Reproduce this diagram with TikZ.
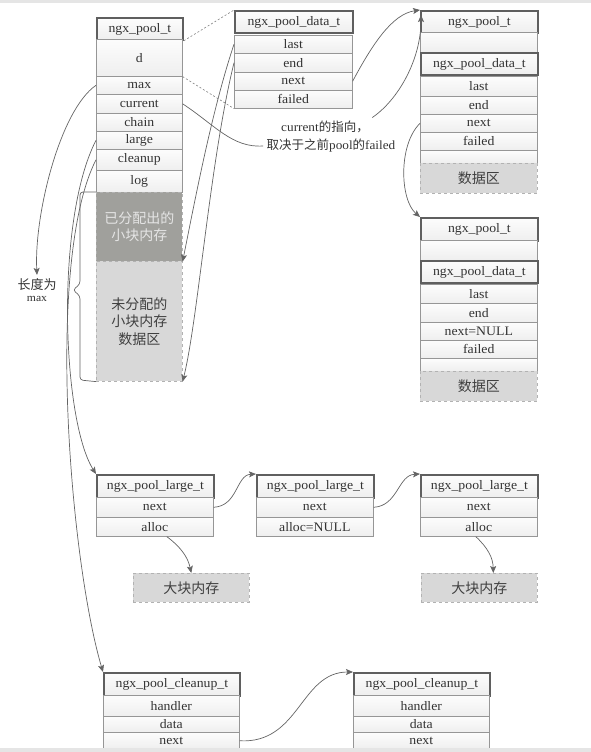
\documentclass[tikz,border=0pt]{standalone}
\usepackage{fontspec}
\setmainfont{Liberation Serif}[FakeStretch=1.06]
\newfontfamily\cjk{Noto Sans CJK SC}
\usetikzlibrary{arrows.meta}

\definecolor{linegray}{RGB}{100,100,100}
\definecolor{headgray}{RGB}{95,95,95}
\definecolor{cellgray}{RGB}{150,150,150}
\definecolor{usedgray}{RGB}{160,160,156}
\definecolor{freegray}{RGB}{216,216,216}

\tikzset{
  cell/.style={anchor=north west, inner sep=0pt, draw=cellgray, line width=0.6pt,
    top color=gray!2, bottom color=gray!13, text=black!80,
    font=\fontsize{13}{15}\selectfont},
  head/.style={cell, draw=headgray, line width=1.8pt},
  area/.style={anchor=north west, inner sep=0pt, draw=gray!60, dashed, line width=0.6pt,
    align=center, text=black!75, font=\cjk\fontsize{14}{17.5}\selectfont},
  link/.style={draw=linegray, line width=0.7pt, -{Stealth[length=7pt,width=6pt,inset=1.5pt]}},
  curve/.style={draw=linegray, line width=0.7pt},
  guide/.style={draw=gray, line width=0.6pt, dash pattern=on 2pt off 2pt},
}

\begin{document}
\begin{tikzpicture}[x=1pt, y=-1pt]
    \useasboundingbox (0,0) rectangle (591,752);
        % ngx_pool_t
        \node[head, minimum width=86, minimum height=22] (ph) at (96,17) {ngx\_pool\_t};
        \node[cell, minimum width=86, minimum height=37] (pd) at (96,39) {d};
        \node[cell, minimum width=86, minimum height=18] (pmax) at (96,76) {max};
        \node[cell, minimum width=86, minimum height=19] (pcur) at (96,94) {current};
        \node[cell, minimum width=86, minimum height=18] (pchain) at (96,113) {chain};
        \node[cell, minimum width=86, minimum height=18] (plarge) at (96,131) {large};
        \node[cell, minimum width=86, minimum height=21] (pclean) at (96,149) {cleanup};
        \node[cell, minimum width=86, minimum height=22] (plog) at (96,170) {log};
        \node[area, fill=usedgray, text=white!90!black, minimum width=86, minimum height=69] (pused) at (96,192) {已分配出的\\小块内存};
        \node[area, fill=freegray, minimum width=86, minimum height=120] (pfree) at (96,261) {未分配的\\小块内存\\数据区};
        % ngx_pool_data_t
        \node[head, minimum width=118, minimum height=22] (dh) at (234,10) {ngx\_pool\_data\_t};
        \node[cell, minimum width=118, minimum height=18] (dlast) at (234,35) {last};
        \node[cell, minimum width=118, minimum height=19] (dend) at (234,53) {end};
        \node[cell, minimum width=118, minimum height=18] (dnext) at (234,72) {next};
        \node[cell, minimum width=118, minimum height=18] (dfail) at (234,90) {failed};
        % second pool
        \node[head, minimum width=117, minimum height=22] (r1h) at (420,10) {ngx\_pool\_t};
        \node[cell, minimum width=117, minimum height=20] (r1pad) at (420,32) {};
        \node[head, minimum width=117, minimum height=22] (r1dh) at (420,52) {ngx\_pool\_data\_t};
        \node[cell, minimum width=117, minimum height=20] (r1last) at (420,76) {last};
        \node[cell, minimum width=117, minimum height=18] (r1end) at (420,96) {end};
        \node[cell, minimum width=117, minimum height=18] (r1next) at (420,114) {next};
        \node[cell, minimum width=117, minimum height=18] (r1fail) at (420,132) {failed};
        \node[cell, minimum width=117, minimum height=13] (r1gap) at (420,150) {};
        \node[area, fill=freegray, minimum width=117, minimum height=30] (r1mem) at (420,163) {数据区};
        % third pool
        \node[head, minimum width=117, minimum height=23] (r2h) at (420,217) {ngx\_pool\_t};
        \node[cell, minimum width=117, minimum height=20] (r2pad) at (420,240) {};
        \node[head, minimum width=117, minimum height=22] (r2dh) at (420,260) {ngx\_pool\_data\_t};
        \node[cell, minimum width=117, minimum height=19] (r2last) at (420,284) {last};
        \node[cell, minimum width=117, minimum height=19] (r2end) at (420,303) {end};
        \node[cell, minimum width=117, minimum height=18] (r2next) at (420,322) {next=NULL};
        \node[cell, minimum width=117, minimum height=18] (r2fail) at (420,340) {failed};
        \node[cell, minimum width=117, minimum height=13] (r2gap) at (420,358) {};
        \node[area, fill=freegray, minimum width=117, minimum height=30] (r2mem) at (420,371) {数据区};
        % ngx_pool_large_t chain
        \node[head, minimum width=117, minimum height=23] (lg1) at (96,474) {ngx\_pool\_large\_t};
        \node[cell, minimum width=117, minimum height=20] (lg1next) at (96,497) {next};
        \node[cell, minimum width=117, minimum height=19] (lg1alloc) at (96,517) {alloc};
        \node[head, minimum width=117, minimum height=23] (lg2) at (256,474) {ngx\_pool\_large\_t};
        \node[cell, minimum width=117, minimum height=20] (lg2next) at (256,497) {next};
        \node[cell, minimum width=117, minimum height=19] (lg2alloc) at (256,517) {alloc=NULL};
        \node[head, minimum width=117, minimum height=23] (lg3) at (420,474) {ngx\_pool\_large\_t};
        \node[cell, minimum width=117, minimum height=20] (lg3next) at (420,497) {next};
        \node[cell, minimum width=117, minimum height=19] (lg3alloc) at (420,517) {alloc};
        \node[area, fill=freegray, minimum width=116, minimum height=29] (big1) at (133,573) {大块内存};
        \node[area, fill=freegray, minimum width=116, minimum height=29] (big2) at (421,573) {大块内存};
        % ngx_pool_cleanup_t chain
        \node[head, minimum width=136, minimum height=23] (cl1) at (103,672) {ngx\_pool\_cleanup\_t};
        \node[cell, minimum width=136, minimum height=21] (cl1hdl) at (103,695) {handler};
        \node[cell, minimum width=136, minimum height=16] (cl1data) at (103,716) {data};
        \node[cell, minimum width=136, minimum height=17] (cl1next) at (103,732) {next};
        \node[head, minimum width=136, minimum height=23] (cl2) at (353,672) {ngx\_pool\_cleanup\_t};
        \node[cell, minimum width=136, minimum height=21] (cl2hdl) at (353,695) {handler};
        \node[cell, minimum width=136, minimum height=16] (cl2data) at (353,716) {data};
        \node[cell, minimum width=136, minimum height=17] (cl2next) at (353,732) {next};
        % labels
        \node[text=black!80, font=\fontsize{12.5}{15}\selectfont] (lbla) at (325,127) {current{\cjk 的指向，}};
        \node[text=black!80, font=\fontsize{12.5}{15}\selectfont] (lblb) at (331,146) {{\cjk 取决于之前}pool{\cjk 的}failed};
        \node[text=black!80, align=center] (lenlbl) at (37,290) {{\cjk\fontsize{13}{16}\selectfont 长度为}\\{\fontsize{11}{13}\selectfont max}};
        % brace
        \draw[curve, rounded corners=3pt] (pused.north west) -- ++(-16,0) -- ++(0,92) -- ++(-7,6) -- ++(7,6) -- ++(0,84) -- (pfree.south west);
        % connectors
        \draw[guide] (ph.south east) -- (dh.north west);
        \draw[guide] (pd.south east) -- (dfail.south west);
        \draw[link] (pmax.west) .. controls (60,110) and (34,215) .. (lenlbl.north);
        \draw[link] (dlast.west) .. controls (212,110) and (195,200) .. (pused.south east);
        \draw[link] (dend.west) .. controls (210,160) and (198,320) .. (pfree.south east);
        \draw[curve] (pcur.east) .. controls (215,125) and (232,148) .. (lblb.west);
        \draw[link] (lbla.north east) .. controls (398,100) and (421,60) .. ([xshift=1pt,yshift=-5pt]r1h.north west);
        \draw[link] (dnext.east) .. controls (372,45) and (392,14) .. (r1h.north west);
        \draw[link] (r1next.west) .. controls (398,145) and (400,200) .. (r2h.north west);
        \draw[link] (plarge.west) .. controls (55,220) and (62,420) .. (lg1.north west);
        \draw[link] (pclean.west) .. controls (45,260) and (70,560) .. (cl1.north west);
        \draw[link] (lg1next.east) .. controls (238,506) and (236,475) .. (lg2.north west);
        \draw[link] (lg2next.east) .. controls (398,506) and (398,475) .. (lg3.north west);
        \draw[link] ([xshift=12pt]lg1alloc.south) .. controls (182,548) and (188,558) .. (big1.north);
        \draw[link] ([xshift=-3pt]lg3alloc.south) .. controls (488,548) and (493,558) .. ([xshift=14pt]big2.north);
        \draw[link] (cl1next.east) .. controls (300,744) and (300,672) .. (cl2.north west);
        % page edges
        \fill[gray!20] (0,0) rectangle (591,3);
        \fill[gray!20] (0,748) rectangle (591,752);
    \end{tikzpicture}
\end{document}
